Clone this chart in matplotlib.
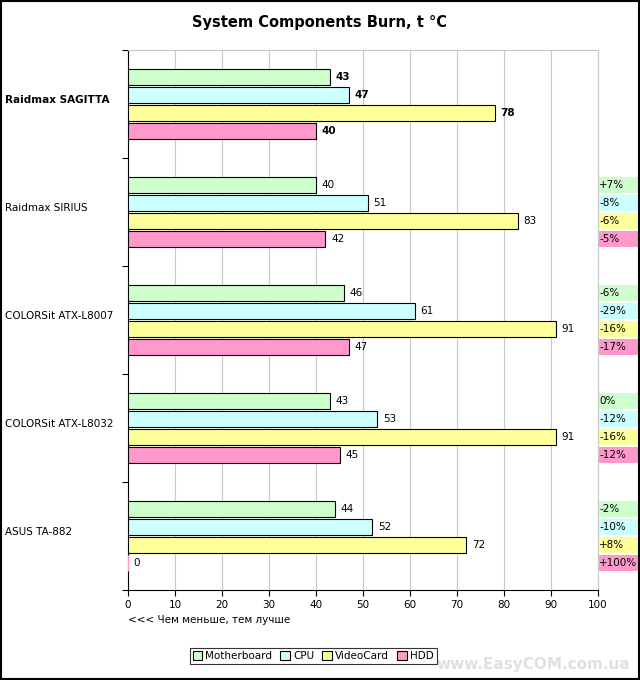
import matplotlib
matplotlib.use("Agg")
import matplotlib.pyplot as plt
from matplotlib.patches import Rectangle

plt.rcParams['font.family'] = ['DejaVu Sans']

systems = ["Raidmax SAGITTA", "Raidmax SIRIUS", "COLORSit ATX-L8007",
           "COLORSit ATX-L8032", "ASUS TA-882"]
series = ["Motherboard", "CPU", "VideoCard", "HDD"]
motherboard = [43, 40, 46, 43, 44]
cpu = [47, 51, 61, 53, 52]
videocard = [78, 83, 91, 91, 72]
hdd = [40, 42, 47, 45, 0]
diffs = [
    ["", "", "", ""],
    ["+7%", "-8%", "-6%", "-5%"],
    ["-6%", "-29%", "-16%", "-17%"],
    ["0%", "-12%", "-16%", "-12%"],
    ["-2%", "-10%", "+8%", "+100%"],
]
xticks = [0, 10, 20, 30, 40, 50, 60, 70, 80, 90, 100]

colors = ["#ccffcc", "#ccffff", "#ffff99", "#ff99cc"]
offsets = [-0.25, -0.0833, 0.0833, 0.25]
bar_h = 0.148

fig = plt.figure(figsize=(6.4, 6.8), dpi=100)
ax = fig.add_axes([128/640, 90/680, 470/640, 540/680])

values = [motherboard, cpu, videocard, hdd]
for s in range(4):
    ys = [i + offsets[s] for i in range(len(systems))]
    edges = ["black" if v > 0 else colors[s] for v in values[s]]
    ax.barh(ys, values[s], height=bar_h, color=colors[s], edgecolor=edges,
            linewidth=0.8, label=series[s], zorder=3)
    for i, v in enumerate(values[s]):
        ax.text(v + 1.2, ys[i], str(v), va="center", ha="left", fontsize=7.5,
                fontweight="bold" if i == 0 else "normal")
        if diffs[i][s]:
            ax.add_patch(Rectangle((100.1, ys[i] - bar_h/2), 8.6, bar_h,
                                   facecolor=colors[s], edgecolor="none",
                                   clip_on=False, zorder=2))
            ax.text(100.3, ys[i], diffs[i][s], va="center", ha="left",
                    fontsize=7.5, clip_on=False)

ax.set_xlim(0, 100)
ax.set_ylim(len(systems) - 0.5, -0.5)
ax.set_xticks(xticks)
ax.tick_params(axis="x", labelsize=7.5, length=4, direction="out")
ax.xaxis.grid(True, color="#c8c8c8", linewidth=0.8, zorder=0)
ax.set_axisbelow(True)

ax.set_yticks([i - 0.5 for i in range(len(systems) + 1)])
ax.set_yticklabels([])
ax.tick_params(axis="y", length=4, direction="out")
for i, name in enumerate(systems):
    fig.text(5/640, 1 - (100 + 108*i)/680, name, ha="left", va="center",
             fontsize=7.5, fontweight="bold" if i == 0 else "normal")

ax.spines["top"].set_color("#c8c8c8")
ax.spines["right"].set_color("#c8c8c8")

fig.text(128/640, 1 - 620/680, "<<< Чем меньше, тем лучше", ha="left",
         va="center", fontsize=7.5)
fig.text(0.5, 1 - 22/680, "System Components Burn, t °C", ha="center",
         va="center", fontsize=10.5, fontweight="bold")

leg = fig.legend(loc="center", bbox_to_anchor=(313/640, 1 - 656/680), ncol=4,
                 fontsize=7.5, frameon=True, fancybox=False, edgecolor="black",
                 handlelength=0.9, handleheight=0.9, handletextpad=0.3,
                 columnspacing=0.8, borderpad=0.3)
leg.get_frame().set_linewidth(0.8)

fig.text(630/640, 1 - 665/680, "www.EasyCOM.com.ua", ha="right", va="center",
         fontsize=11, fontweight="bold", color="#e0e0e0")

fig.add_artist(Rectangle((0.001, 0.001), 0.997, 0.997, transform=fig.transFigure,
                         facecolor="none", edgecolor="black", linewidth=1.5))

fig.savefig("out.png", dpi=100)
